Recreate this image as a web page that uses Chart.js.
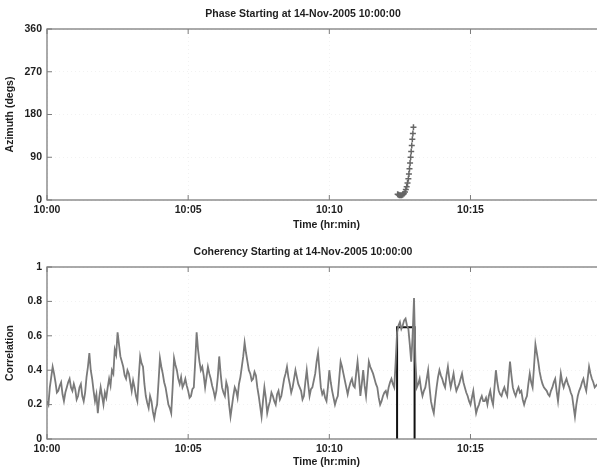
<!DOCTYPE html>
<html>
<head>
<meta charset="utf-8">
<script src="https://cdn.jsdelivr.net/npm/chart.js@4/dist/chart.umd.min.js"></script>
<style>
  html, body { margin: 0; padding: 0; background: #fff; overflow: hidden; width: 597px; height: 469px; }
  canvas { position: absolute; left: 0; }
  #phase { top: 0; }
  #coh { top: 232px; }
</style>
</head>
<body>
<canvas id="phase" width="620" height="232"></canvas>
<canvas id="coh" width="620" height="237"></canvas>
<script>
// time axis (minutes after 10:00)
const tickLabels = ['10:00', '10:05', '10:10', '10:15']
const azTicks = ['0', '90', '180', '270', '360']
const corrTicks = ['0', '0.2', '0.4', '0.6', '0.8', '1']

// phase: azimuth points
const phaseTimes = [12.42, 12.45, 12.48, 12.52, 12.56, 12.60, 12.64, 12.68, 12.71, 12.74, 12.77,
                    12.80, 12.82, 12.84, 12.86, 12.88, 12.90, 12.92, 12.94, 12.96, 12.98]
const phaseAz    = [12, 11, 10, 10, 10, 11, 13, 17, 22, 28, 36,
                    45, 55, 66, 78, 90, 102, 115, 128, 140, 153]

// coherency: one sample every 0.05 min from 10:00 (one row per minute)
const sampleStep = 0.05
const corrValues = [
  0.22,0.20, 0.30,0.36, 0.42,0.38, 0.33,0.27, 0.28,0.31, 0.33,0.26, 0.22,0.27, 0.30,0.33, 0.35,0.30, 0.28,0.32,
  0.29,0.23, 0.25,0.30, 0.32,0.25, 0.22,0.27, 0.36,0.42, 0.50,0.40, 0.35,0.28, 0.22,0.26, 0.15,0.24, 0.30,0.25,
  0.20,0.27, 0.24,0.30, 0.35,0.31, 0.40,0.38, 0.52,0.49, 0.62,0.55, 0.48,0.45, 0.42,0.37, 0.35,0.40, 0.38,0.33,
  0.28,0.34, 0.30,0.25, 0.22,0.36, 0.48,0.44, 0.42,0.32, 0.25,0.21, 0.18,0.25, 0.22,0.16, 0.12,0.17, 0.20,0.33,
  0.47,0.42, 0.38,0.33, 0.30,0.25, 0.20,0.18, 0.15,0.30, 0.47,0.43, 0.40,0.35, 0.32,0.36, 0.30,0.32, 0.35,0.31,
  0.28,0.24, 0.25,0.29, 0.30,0.45, 0.62,0.52, 0.45,0.40, 0.42,0.37, 0.30,0.36, 0.42,0.38, 0.35,0.31, 0.28,0.24,
  0.28,0.36, 0.48,0.38, 0.30,0.27, 0.25,0.33, 0.30,0.20, 0.13,0.19, 0.25,0.30, 0.28,0.24, 0.32,0.36, 0.42,0.48,
  0.56,0.50, 0.45,0.40, 0.38,0.34, 0.35,0.39, 0.37,0.30, 0.25,0.19, 0.13,0.22, 0.30,0.24, 0.15,0.19, 0.22,0.27,
  0.25,0.22, 0.20,0.26, 0.28,0.23, 0.25,0.30, 0.35,0.38, 0.42,0.36, 0.32,0.27, 0.30,0.35, 0.40,0.36, 0.32,0.30,
  0.28,0.23, 0.25,0.33, 0.40,0.32, 0.25,0.29, 0.30,0.34, 0.38,0.45, 0.50,0.40, 0.30,0.26, 0.28,0.24, 0.22,0.30,
  0.40,0.33, 0.28,0.24, 0.20,0.23, 0.25,0.35, 0.45,0.42, 0.38,0.34, 0.30,0.26, 0.30,0.33, 0.35,0.31, 0.30,0.38,
  0.45,0.36, 0.25,0.32, 0.40,0.31, 0.25,0.35, 0.45,0.42, 0.40,0.38, 0.35,0.32, 0.30,0.24, 0.20,0.22, 0.25,0.27,
  0.28,0.25, 0.30,0.33, 0.35,0.32, 0.30,0.45, 0.62,0.66, 0.68,0.64, 0.66,0.69, 0.70,0.66, 0.64,0.55, 0.45,0.60,
  0.82,0.45, 0.30,0.32, 0.35,0.29, 0.25,0.28, 0.30,0.35, 0.40,0.30, 0.22,0.18, 0.15,0.23, 0.30,0.36, 0.40,0.37,
  0.35,0.32, 0.30,0.37, 0.42,0.35, 0.30,0.34, 0.38,0.32, 0.28,0.30, 0.32,0.35, 0.38,0.33, 0.30,0.27, 0.25,0.22,
  0.20,0.24, 0.28,0.21, 0.15,0.18, 0.20,0.23, 0.25,0.22, 0.22,0.24, 0.20,0.25, 0.28,0.23, 0.20,0.30, 0.40,0.33,
  0.28,0.26, 0.25,0.28, 0.30,0.27, 0.25,0.35, 0.45,0.37, 0.30,0.27, 0.25,0.28, 0.30,0.27, 0.28,0.23, 0.20,0.23,
  0.25,0.32, 0.38,0.33, 0.30,0.42, 0.55,0.50, 0.45,0.39, 0.35,0.32, 0.30,0.29, 0.28,0.26, 0.25,0.28, 0.30,0.33,
  0.35,0.28, 0.22,0.30, 0.38,0.33, 0.30,0.33, 0.35,0.32, 0.30,0.27, 0.25,0.19, 0.13,0.20, 0.25,0.28, 0.30,0.33,
  0.35,0.31, 0.28,0.35, 0.42,0.38, 0.35,0.33, 0.30,0.31, 0.32
]

// detection window box
const boxTimes  = [12.40, 12.40, 13.02, 13.02]
const boxValues = [0, 0.65, 0.65, 0]

const FONT = { family: 'Liberation Sans, Arial, sans-serif', size: 10.5, weight: 'bold', lineHeight: '13px' }
const TEXT = '#1e1e1e'

// matlab style box with inner ticks
const boxPlugin = {
    id: 'matbox',
    afterDatasetsDraw(chart) {
        const { ctx, chartArea: a, scales } = chart
        ctx.save()
        ctx.strokeStyle = '#7d7d7d'
        ctx.lineWidth = 1.3
        ctx.strokeRect(a.left, a.top, a.right - a.left, a.bottom - a.top)
        ctx.lineWidth = 1
        scales.x.ticks.forEach(t => {
            const px = scales.x.getPixelForValue(t.value)
            ctx.beginPath()
            ctx.moveTo(px, a.bottom); ctx.lineTo(px, a.bottom - 5)
            ctx.moveTo(px, a.top); ctx.lineTo(px, a.top + 5)
            ctx.stroke()
        })
        scales.y.ticks.forEach(t => {
            const py = scales.y.getPixelForValue(t.value)
            ctx.beginPath()
            ctx.moveTo(a.left, py); ctx.lineTo(a.left + 5, py)
            ctx.stroke()
        })
        ctx.restore()
    }
}

function xScale(height, titlePad) {
    return {
        type: 'linear', min: 0, max: 19.8,
        grid: { color: 'rgba(0,0,0,0.05)', drawTicks: false },
        border: { display: false, dash: [1, 3] },
        ticks: {
            stepSize: 5, includeBounds: false, padding: 4, color: TEXT, font: FONT, maxRotation: 0,
            callback: v => tickLabels[Math.round(v / 5)]
        },
        title: { display: true, text: 'Time (hr:min)', color: TEXT, font: FONT, padding: { top: titlePad, bottom: 0 } },
        afterFit: s => { s.height = height }
    }
}

function yScale(max, step, labels, title) {
    return {
        min: 0, max: max,
        grid: { color: 'rgba(0,0,0,0.05)', drawTicks: false },
        border: { display: false, dash: [1, 3] },
        ticks: {
            stepSize: step, padding: 5, color: TEXT, font: FONT,
            callback: v => labels[Math.round(v / step)]
        },
        title: { display: true, text: title, color: TEXT, font: FONT, padding: { top: 4, bottom: 0 } },
        afterFit: s => { s.width = 47 }
    }
}

function titleOpts(text, top) {
    return {
        display: true, text: text, color: TEXT, font: FONT,
        padding: { top: top, bottom: 8 }
    }
}

new Chart(document.getElementById('phase'), {
    type: 'scatter',
    data: {
        datasets: [{
            data: phaseTimes.map((t, i) => ({ x: t, y: phaseAz[i] })),
            pointStyle: 'cross',
            pointRadius: 3,
            borderColor: '#666',
            backgroundColor: '#666',
            borderWidth: 1.5
        }]
    },
    options: {
        responsive: false,
        animation: false,
        layout: { padding: { left: 0, right: 14, top: 0, bottom: 0 } },
        plugins: { legend: { display: false }, tooltip: { enabled: false }, title: titleOpts('Phase Starting at 14-Nov-2005 10:00:00', 8) },
        scales: { x: xScale(32, 2), y: yScale(360, 90, azTicks, 'Azimuth (degs)') }
    },
    plugins: [boxPlugin]
})

new Chart(document.getElementById('coh'), {
    type: 'line',
    data: {
        datasets: [{
            data: corrValues.map((v, i) => ({ x: i * sampleStep, y: v })),
            borderColor: '#7a7a7a',
            borderWidth: 1.8,
            pointRadius: 0,
            tension: 0
        }, {
            data: boxTimes.map((t, i) => ({ x: t, y: boxValues[i] })),
            borderColor: '#111',
            borderWidth: 2,
            pointRadius: 0,
            tension: 0
        }]
    },
    options: {
        responsive: false,
        animation: false,
        layout: { padding: { left: 0, right: 14, top: 0, bottom: 0 } },
        plugins: { legend: { display: false }, tooltip: { enabled: false }, title: titleOpts('Coherency Starting at 14-Nov-2005 10:00:00', 14) },
        scales: { x: xScale(30, 0), y: yScale(1, 0.2, corrTicks, 'Correlation') }
    },
    plugins: [boxPlugin]
})
</script>
</body>
</html>
